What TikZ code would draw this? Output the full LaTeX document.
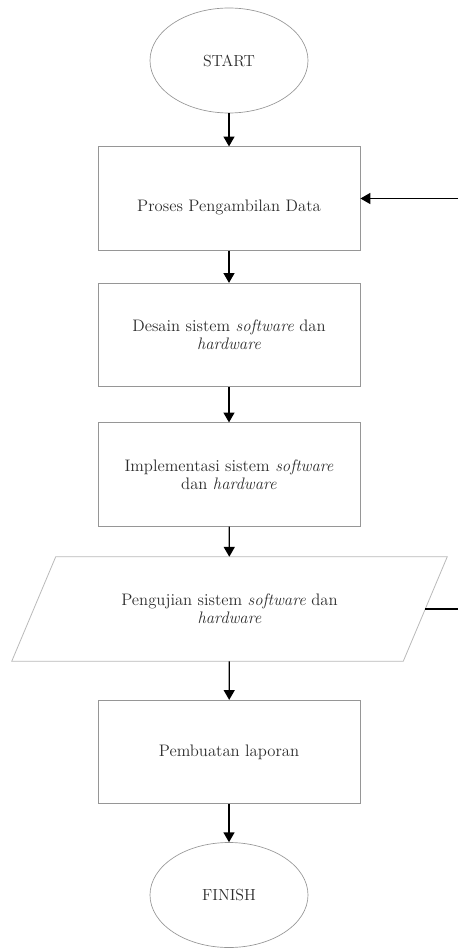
\documentclass[tikz,border=0pt]{standalone}
\usepackage{amsmath,amssymb}
\usetikzlibrary{shapes,arrows}
\usetikzlibrary{calc}
\definecolor{boxgray}{RGB}{150,150,150}
\definecolor{iogray}{RGB}{185,185,185}
\definecolor{textgray}{RGB}{45,45,45}

\begin{document}
\begin{tikzpicture}[x=0.75pt,y=-0.75pt]

\tikzstyle{oval} = [draw, ellipse, draw=boxgray, line width=0.5, minimum width=118.5pt,
minimum height=78.75pt, inner sep=0, text=textgray, font=\fontsize{12}{13.5}\selectfont]
\tikzstyle{proc-box} = [draw, rectangle, draw=boxgray, line width=0.7, minimum width=196.5pt,
minimum height=77.5pt, inner sep=0, align=center, text=textgray, font=\fontsize{12.5}{13.5}\selectfont]
\tikzstyle{io-box} = [rectangle, minimum width=293.25pt, minimum height=78pt,
inner sep=0, align=center, text=textgray, font=\fontsize{12.5}{13.5}\selectfont]
\tikzstyle{io-line} = [draw=iogray, line width=0.6]
\tikzstyle{flow} = [-triangle 60, line width=1]

\useasboundingbox (0,0) rectangle (458,948);

\node [oval] (start) at (229,60.5) {START};

\node [proc-box] (ambil) at (229,198.5) {\raisebox{-7pt}[\height][\depth]{Proses Pengambilan Data}};

\node [proc-box] (desain) at (229,335) {Desain sistem \textit{software} dan\\ \textit{hardware}};

\node [proc-box] (implementasi) at (229,474.5) {Implementasi sistem \textit{software}\\ dan \textit{hardware}};

\node [io-box] (uji) at (229.5,609) {Pengujian sistem \textit{software} dan\\ \textit{hardware}};
\draw[io-line] ($(uji.south west)+(-22,0)$) -- ($(uji.south east)+(-22,0)$)
  -- ($(uji.north east)+(22,0)$) -- ($(uji.north west)+(22,0)$) -- cycle;

\node [proc-box] (laporan) at (229,752) {Pembuatan laporan};

\node [oval] (finish) at (229,895) {FINISH};

% jalur utama
\draw[flow] (start) -- (ambil);
\draw[flow] (ambil) -- (desain);
\draw[flow] (desain) -- (implementasi);
\draw[flow] (implementasi) -- (uji);
\draw[flow] (uji) -- (laporan);
\draw[flow] (laporan) -- (finish);

% umpan balik
\coordinate (balik) at (458,198.5);
\coordinate (keluar) at (458,609);
\draw[line width=1] (uji.east) -- (keluar);
\draw[flow] (balik) -- (ambil.east);

\end{tikzpicture}
\end{document}
